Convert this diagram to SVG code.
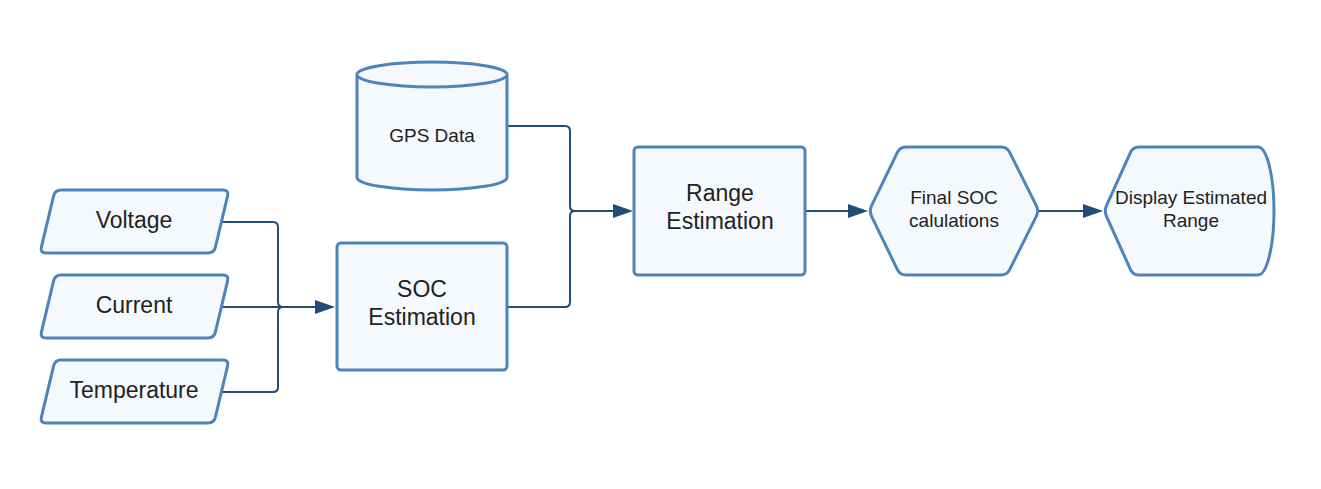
<svg xmlns="http://www.w3.org/2000/svg" width="1321" height="489" viewBox="0 0 1321 489">
<defs>
<style>
.node{fill:#f5f9fd;stroke:#4d84bb;stroke-width:3;stroke-linejoin:round}
.conn{fill:none;stroke:#1f4d76;stroke-width:2}
.t{font-family:"Liberation Sans",Arial,sans-serif;fill:#222222;text-anchor:middle}
.big{font-size:23px}
.sm{font-size:19px}
</style>
<marker id="arr" markerUnits="userSpaceOnUse" markerWidth="20" markerHeight="14" refX="15" refY="7" orient="auto">
<path d="M0,0 L20,7 L0,14 Z" fill="#1f4d76"/>
</marker>
<path id="para" d="M 61,190 H 223 Q 229,190 227.6,195.8 L 215.4,247.2 Q 214,253 208,253 H 46 Q 40,253 41.4,247.2 L 53.6,195.8 Q 55,190 61,190 Z"/>
</defs>
<rect width="1321" height="489" fill="#ffffff"/>
<g id="connectors">
<path class="conn" d="M 222,222 H 273 Q 278,222 278,227 V 302 Q 278,307 283,307"/>
<path class="conn" d="M 222,392 H 273 Q 278,392 278,387 V 312 Q 278,307 283,307"/>
<path class="conn" d="M 222,307 H 330" marker-end="url(#arr)"/>
<path class="conn" d="M 507,126 H 565 Q 570,126 570,131 V 206 Q 570,211 575,211 H 628" marker-end="url(#arr)"/>
<path class="conn" d="M 507,307 H 565 Q 570,307 570,302 V 216 Q 570,211 575,211"/>
<path class="conn" d="M 805,211 H 863" marker-end="url(#arr)"/>
<path class="conn" d="M 1039,211 H 1098" marker-end="url(#arr)"/>
</g>
<g id="voltage">
<use href="#para" class="node"/>
<text class="t big" x="134" y="228">Voltage</text>
</g>
<g id="current">
<use href="#para" class="node" transform="translate(0,85)"/>
<text class="t big" x="134" y="313">Current</text>
</g>
<g id="temperature">
<use href="#para" class="node" transform="translate(0,170)"/>
<text class="t big" x="134" y="398">Temperature</text>
</g>
<g id="gps">
<path class="node" d="M 357,74.5 A 75,12.5 0 0 1 507,74.5 V 177.5 A 75,12.5 0 0 1 357,177.5 Z"/>
<path class="node" d="M 357,74.5 A 75,12.5 0 0 0 507,74.5" fill="none"/>
<text class="t sm" x="432" y="142">GPS Data</text>
</g>
<g id="soc">
<rect class="node" x="337" y="243" width="170" height="127" rx="4"/>
<text class="t big" x="422" y="297">SOC</text>
<text class="t big" x="422" y="325">Estimation</text>
</g>
<g id="range">
<rect class="node" x="634" y="147" width="171" height="128" rx="4"/>
<text class="t big" x="720" y="201">Range</text>
<text class="t big" x="720" y="229">Estimation</text>
</g>
<g id="final">
<path class="node" d="M 906,147 H 1001 Q 1007,147 1009.7,152.4 L 1036.3,205.6 Q 1039,211 1036.3,216.4 L 1009.7,269.6 Q 1007,275 1001,275 H 906 Q 900,275 897.4,269.6 L 871.6,216.4 Q 869,211 871.6,205.6 L 897.4,152.4 Q 900,147 906,147 Z"/>
<text class="t sm" x="954" y="204">Final SOC</text>
<text class="t sm" x="954" y="227">calulations</text>
</g>
<g id="display">
<path class="node" d="M 1139,147 H 1258 A 16,64 0 0 1 1258,275 H 1139 Q 1133,275 1130.5,269.6 L 1106.5,216.4 Q 1104,211 1106.5,205.6 L 1130.5,152.4 Q 1133,147 1139,147 Z"/>
<text class="t sm" x="1191" y="204">Display Estimated</text>
<text class="t sm" x="1191" y="227">Range</text>
</g>
</svg>
